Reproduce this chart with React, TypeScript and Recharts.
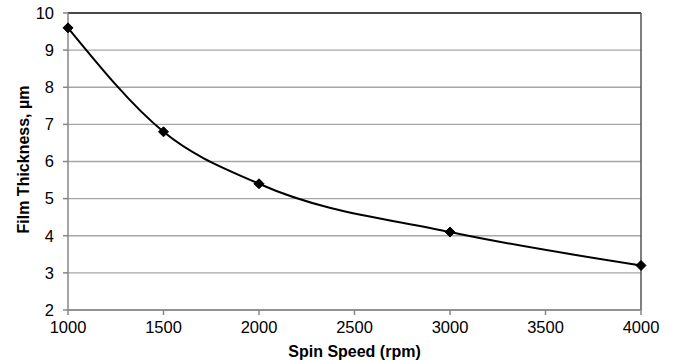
import type { ReactElement } from 'react'
import {
  CartesianGrid,
  LineChart,
  Line,
  ReferenceLine,
  XAxis,
  YAxis,
} from 'recharts'

const spinSpeeds = [1000, 1500, 2000, 3000, 4000]
const thickness = [9.6, 6.8, 5.4, 4.1, 3.2]
const xTicks = [1000, 1500, 2000, 2500, 3000, 3500, 4000]
const yTicks = [2, 3, 4, 5, 6, 7, 8, 9, 10]

const rows = spinSpeeds.map((s, i) => ({ speed: s, film: thickness[i] }))

const FONT = '"Liberation Sans", Arial, sans-serif'

function Diamond(props: any): ReactElement {
  const { cx, cy } = props
  const r = 5
  return (
    <polygon
      points={`${cx},${cy - r} ${cx + r},${cy} ${cx},${cy + r} ${cx - r},${cy}`}
      fill="#000"
      stroke="#000"
    />
  )
}

export default function App(): ReactElement {
  return (
    <div style={{ position: 'absolute', left: 0, top: 0, background: '#fff', fontFamily: FONT }}>
      <LineChart
        width={675}
        height={360}
        data={rows}
        margin={{ top: 13, right: 34, bottom: 0, left: 20 }}
      >
        <CartesianGrid horizontal vertical={false} stroke="#a6a6a6" strokeWidth={1.3} />
        <XAxis
          dataKey="speed"
          type="number"
          domain={[1000, 4000]}
          ticks={xTicks}
          height={50}
          stroke="#868686"
          strokeWidth={1.5}
          tickSize={5}
          tickMargin={6}
          tick={{ fill: '#000', fontSize: 16.5, fontFamily: FONT }}
          label={{
            value: 'Spin Speed (rpm)',
            position: 'insideBottom',
            offset: 3,
            style: { fill: '#000', fontSize: 16, fontWeight: 'bold', fontFamily: FONT },
          }}
        />
        <YAxis
          type="number"
          domain={[2, 10]}
          ticks={yTicks}
          width={48}
          stroke="#868686"
          strokeWidth={1.5}
          tickSize={5}
          tickMargin={9}
          tick={{ fill: '#000', fontSize: 16.5, fontFamily: FONT }}
          label={{
            value: 'Film Thickness, µm',
            angle: -90,
            position: 'insideLeft',
            offset: 3,
            dy: -2,
            style: { fill: '#000', fontSize: 16, fontWeight: 'bold', fontFamily: FONT, textAnchor: 'middle' },
          }}
        />
        <ReferenceLine y={10} stroke="#222" strokeWidth={1.5} />
        <ReferenceLine x={4000} stroke="#555" strokeWidth={1.5} />
        <Line
          dataKey="film"
          type="monotone"
          stroke="#000"
          strokeWidth={2}
          dot={<Diamond />}
          activeDot={false}
          isAnimationActive={false}
        />
      </LineChart>
    </div>
  )
}
